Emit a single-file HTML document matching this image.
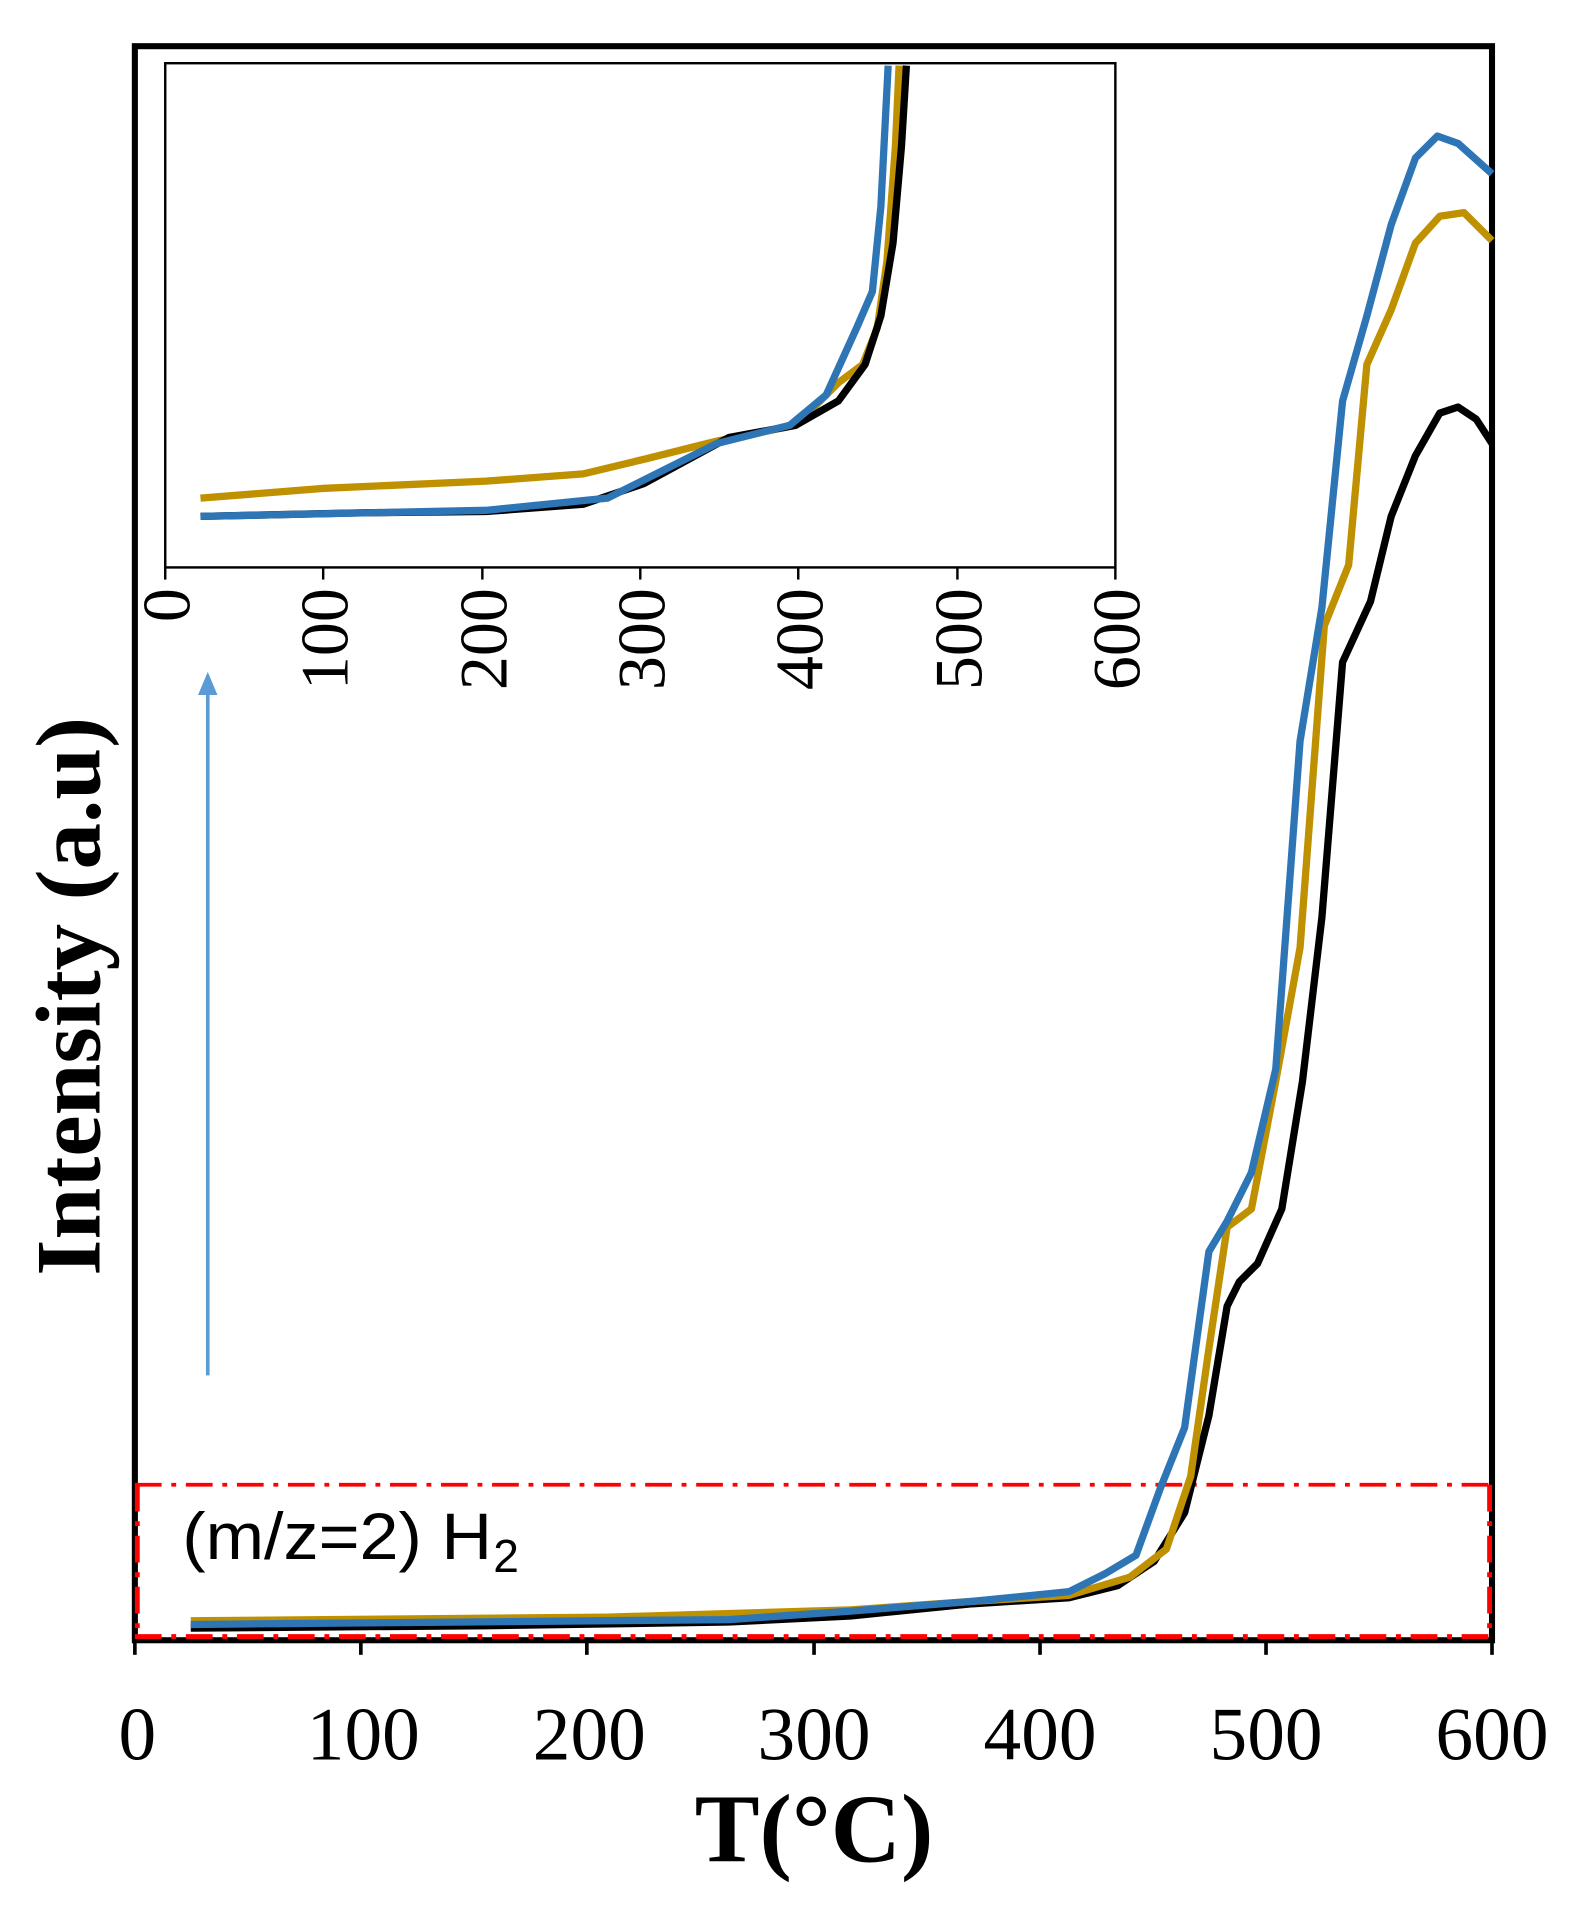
<!DOCTYPE html>
<html><head><meta charset="utf-8"><style>html,body{margin:0;padding:0;background:#fff}svg{display:block}</style></head>
<body>
<svg width="1579" height="1906" viewBox="0 0 1299.6 1568.7" xmlns="http://www.w3.org/2000/svg" font-family="'Liberation Serif', serif">
<rect width="1300" height="1570" fill="#fff"/>
<rect x="111" y="38" width="1117" height="1312" fill="none" stroke="#000" stroke-width="5"/>
<g stroke="#000" stroke-width="3">
<line x1="111" y1="1350" x2="111" y2="1362"/><line x1="297" y1="1350" x2="297" y2="1362"/><line x1="483" y1="1350" x2="483" y2="1362"/><line x1="670" y1="1350" x2="670" y2="1362"/><line x1="856" y1="1350" x2="856" y2="1362"/><line x1="1042" y1="1350" x2="1042" y2="1362"/><line x1="1228" y1="1350" x2="1228" y2="1362"/>
</g>
<g font-size="62" text-anchor="middle" fill="#000">
<text x="113" y="1448">0</text><text x="299" y="1448">100</text><text x="485" y="1448">200</text><text x="670" y="1448">300</text><text x="856" y="1448">400</text><text x="1042" y="1448">500</text><text x="1228" y="1448">600</text>
</g>
<text x="670" y="1532" font-size="80" font-weight="bold" text-anchor="middle">T(°C)</text>
<text transform="translate(82,820) rotate(-90)" font-size="76" font-weight="bold" text-anchor="middle" textLength="460" lengthAdjust="spacingAndGlyphs">Intensity (a.u)</text>
<g fill="none" stroke="#f00" stroke-width="3" stroke-dasharray="22,8,4,8">
<line x1="111" y1="1222" x2="1228" y2="1222"/>
<line x1="111" y1="1347" x2="1228" y2="1347" stroke-width="4"/>
<line x1="113" y1="1222" x2="113" y2="1347" stroke-width="4"/>
<line x1="1226" y1="1222" x2="1226" y2="1347" stroke-width="4"/>
</g>
<text x="150" y="1283" font-family="'Liberation Sans', sans-serif" font-size="54" fill="#000" textLength="255" lengthAdjust="spacingAndGlyphs">(m/z=2) H</text>
<text x="406" y="1294" font-family="'Liberation Sans', sans-serif" font-size="38" fill="#000">2</text>
<line x1="171" y1="1132" x2="171" y2="568" stroke="#5b9bd5" stroke-width="3"/>
<polygon points="171,553 163,572 179,572" fill="#5b9bd5"/>
<g fill="none" stroke-width="6" stroke-linejoin="round">
<polyline stroke="#000" points="157,1340 400,1338 600,1335 700,1330 800,1320 880,1315 920,1305 950,1285 975,1245 995,1165 1010,1075 1020,1055 1035,1040 1055,995 1072,890 1088,755 1105,545 1128,495 1145,425 1165,375 1185,340 1200,335 1215,345 1228,365"/>
<polyline stroke="#bf9000" points="157,1334 500,1331 700,1325 800,1318 880,1313 930,1298 960,1275 980,1215 995,1110 1010,1010 1030,995 1050,890 1070,780 1090,515 1110,465 1125,300 1145,255 1165,200 1185,178 1205,175 1228,198"/>
<polyline stroke="#2e75b6" points="157,1337 600,1333 700,1326 800,1318 880,1310 910,1295 935,1280 955,1225 975,1175 995,1030 1010,1005 1030,965 1050,880 1070,610 1088,500 1105,330 1125,260 1145,185 1165,130 1183,112 1200,118 1228,143"/>
</g>
<rect x="136" y="52" width="782" height="415" fill="#fff" stroke="#000" stroke-width="2"/>
<g stroke="#000" stroke-width="2">
<line x1="136" y1="467" x2="136" y2="477"/><line x1="266" y1="467" x2="266" y2="477"/><line x1="397" y1="467" x2="397" y2="477"/><line x1="527" y1="467" x2="527" y2="477"/><line x1="657" y1="467" x2="657" y2="477"/><line x1="788" y1="467" x2="788" y2="477"/><line x1="918" y1="467" x2="918" y2="477"/>
</g>
<g font-size="56" text-anchor="end" fill="#000">
<text transform="translate(156,484) rotate(-90)">0</text>
<text transform="translate(286,484) rotate(-90)">100</text>
<text transform="translate(417,484) rotate(-90)">200</text>
<text transform="translate(547,484) rotate(-90)">300</text>
<text transform="translate(677,484) rotate(-90)">400</text>
<text transform="translate(808,484) rotate(-90)">500</text>
<text transform="translate(938,484) rotate(-90)">600</text>
</g>
<g fill="none" stroke-width="6" stroke-linejoin="round">
<polyline stroke="#bf9000" points="165,410 265,402 400,396 480,390 530,378 590,363 655,350 690,315 710,300 722,270 730,215 737,120 740,54"/>
<polyline stroke="#000" points="165,425 300,422 400,421 480,415 530,398 600,360 655,350 690,330 712,300 725,260 735,200 742,120 746,54"/>
<polyline stroke="#2e75b6" points="165,425 400,420 500,410 540,390 590,365 650,350 680,325 705,270 718,240 725,170 731,54"/>
</g>
</svg>
</body></html>
